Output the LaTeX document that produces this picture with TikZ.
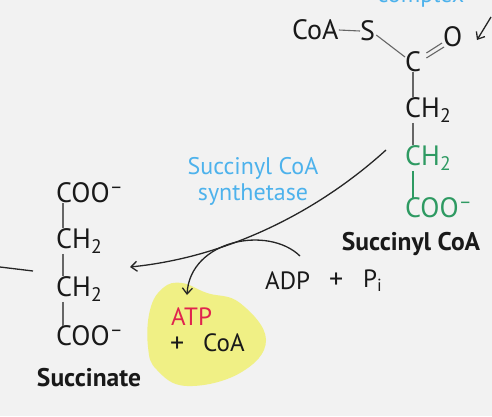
\documentclass[tikz,border=0pt]{standalone}
\usepackage{fontspec}
\setmainfont{PT Sans}
\usepackage{xcolor}
\usetikzlibrary{positioning,arrows.meta}
\definecolor{pagegray}{HTML}{F2F2F2}
\definecolor{enzblue}{HTML}{4DB2EC}
\definecolor{chemgreen}{HTML}{2E9A62}
\definecolor{atpred}{HTML}{E0234E}
\definecolor{blobyellow}{HTML}{F0F085}

\begin{document}
\begin{tikzpicture}[
    x=1pt, y=-1pt,
    group/.style={inner sep=0pt, anchor=west, font=\fontsize{28}{28}\selectfont, text=black!90},
    greengroup/.style={group, text=chemgreen},
    small/.style={group, font=\fontsize{25}{25}\selectfont},
    pluss/.style={group, font=\fontsize{28}{28}\selectfont},
    enzyme/.style={inner sep=0pt, align=center, font=\fontsize{24}{26}\selectfont, text=enzblue},
    title/.style={inner sep=0pt, font=\bfseries\fontsize{25.5}{25.5}\selectfont, text=black!90},
    bond/.style={draw=black!60, line width=1.1pt},
    greenbond/.style={draw=chemgreen, line width=1.1pt},
    arrow/.style={-{Straight Barb[length=6pt,width=10pt]}, draw=black!85, line width=1.3pt}
]
\useasboundingbox (0,0) rectangle (492,416);
\fill[pagegray] (0,0) rectangle (492,416);

% yellow patch
\fill[blobyellow] plot[smooth cycle, tension=0.7] coordinates {(182,283) (207,293) (240,303) (266,340) (240,373) (187,386) (157,370) (148,347) (150,310) (163,288)};

% succinyl CoA
\node[enzyme] (complexlabel) at (421,-4) {complex};
\node[group] (coa) at (292,30) {CoA};
\node[group] (sulfur) at (360,31) {S};
\node[group] (carbon) at (405,62) {C};
\node[group] (oxygen) at (443,37) {O};
\node[group] (ch2a) at (405,110) {CH\textsubscript{2}};
\node[greengroup] (ch2b) at (405,158) {CH\textsubscript{2}};
\node[greengroup] (coob) at (405,208) {COO\textsuperscript{–}};
\node[title] (succoa) at (411,244) {Succinyl CoA};

\draw[bond] (coa.east) -- (sulfur.west);
\draw[bond] ([shift={(1,4)}]sulfur.east) -- ([shift={(0,-5)}]carbon.west);
\draw[bond] ([xshift=8pt]carbon.south west) -- ([xshift=8pt]ch2a.north west);
\draw[bond] ([xshift=8pt]ch2a.south west) -- ([xshift=8pt]ch2b.north west);
\draw[greenbond] ([xshift=8pt]ch2b.south west) -- ([xshift=8pt]coob.north west);
\draw[bond] ([shift={(5,-9)}]carbon.east) -- ([shift={(-1,6)}]oxygen.west);
\draw[bond] ([shift={(5,-4)}]carbon.east) -- ([shift={(1,10)}]oxygen.west);

% succinate
\node[group] (coo1) at (56,193) {COO\textsuperscript{–}};
\node[group] (ch1) at (56,241) {CH\textsubscript{2}};
\node[group] (ch2) at (56,289) {CH\textsubscript{2}};
\node[group] (coo2) at (56,336) {COO\textsuperscript{–}};
\node[title] (succ) at (89,378) {Succinate};

\draw[bond] ([xshift=7pt]coo1.south west) -- ([xshift=7pt]ch1.north west);
\draw[bond] ([xshift=7pt]ch1.south west) -- ([xshift=7pt]ch2.north west);
\draw[bond] ([xshift=7pt]ch2.south west) -- ([xshift=7pt]coo2.north west);

% enzyme and side products
\node[enzyme] (synth) at (253,181) {Succinyl CoA\\synthetase};
\node[small] (adp) at (265,281) {ADP};
\node[pluss] (plus) at (329,281) {+};
\node[small] (pi) at (363,281) {P\textsubscript{i}};
\node[small, text=atpred] (atp) at (171,317) {ATP};
\node[pluss] (plusb) at (170,345) {+};
\node[small] (coab) at (203,343) {CoA};

% arrows
\coordinate (mainstart) at (386,150);
\coordinate (mainend) at (130,267);
\coordinate (adpstart) at (300,256);
\coordinate (atpend) at (187,295);
\coordinate (stubstart) at (0,267);
\coordinate (stubend) at (33,271);
\coordinate (topstart) at (491,17);
\coordinate (topend) at (477,40);
\draw[arrow] (mainstart) .. controls (320,210) and (230,257) .. (mainend);
\draw[arrow] (adpstart) .. controls (268,225) and (190,240) .. (atpend);
\draw[draw=black!85, line width=1.3pt] (stubstart) -- (stubend);
\draw[arrow] (topstart) -- (topend);

\end{tikzpicture}
\end{document}
